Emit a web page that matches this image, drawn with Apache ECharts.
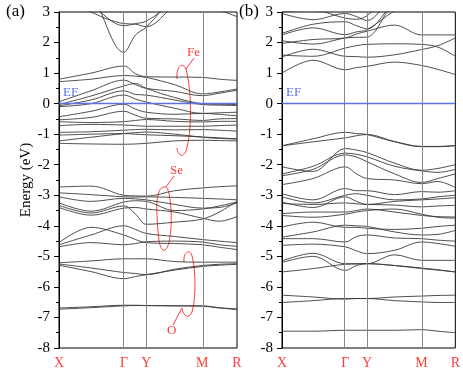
<!DOCTYPE html>
<html>
<head>
<meta charset="utf-8">
<script src="https://cdn.jsdelivr.net/npm/echarts@6/dist/echarts.min.js"></script>
<style>
  html, body { margin: 0; padding: 0; background: #fff; }
  #chart { width: 463px; height: 373px; }
</style>
</head>
<body>
<div id="chart"></div>
<script>
// k-path positions where band energies were read
const kPoints = [0, 0.18, 0.365, 0.43, 0.49, 0.65, 0.805, 0.9, 1]
const kTicks = [0, 0.365, 0.49, 0.805, 1]
const kLabels = ['X', 'Γ', 'Y', 'M', 'R']

// panel (a)
const condA = [
  [3.6, 3.0, 2.62, 2.60, 2.52, 3.2, 3.6, 3.6, 3.6],
  [3.6, 3.2, 2.55, 2.62, 2.70, 3.3, 3.6, 3.6, 3.6],
  [4.6, 3.6, 1.68, 2.25, 2.50, 3.5, 4.0, 4.0, 4.0],
  [3.6, 3.6, 3.6, 3.6, 3.6, 3.6, 3.4, 3.08, 2.85],
]
const feA = [
  [0.80, 1.00, 1.23, 0.98, 0.88, 0.87, 0.86, 0.80, 0.76],
  [0.72, 0.80, 0.92, 0.90, 0.86, 0.62, 0.32, 0.38, 0.48],
  [0.06, 0.42, 0.77, 0.62, 0.50, 0.40, 0.26, 0.34, 0.44],
  [-0.03, 0.25, 0.58, 0.66, 0.50, 0.20, 0.00, -0.02, -0.03],
  [-0.07, 0.12, 0.42, 0.30, 0.28, 0.12, -0.03, -0.05, -0.06],
  [-0.10, 0.00, 0.28, 0.15, 0.05, -0.15, -0.32, -0.30, -0.28],
  [-0.43, -0.25, -0.02, -0.18, -0.28, -0.35, -0.32, -0.35, -0.40],
  [-0.53, -0.45, -0.25, -0.38, -0.48, -0.50, -0.55, -0.50, -0.49],
  [-0.59, -0.62, -0.59, -0.55, -0.52, -0.58, -0.60, -0.58, -0.58],
  [-0.72, -0.68, -0.70, -0.72, -0.74, -0.74, -0.74, -0.72, -0.70],
  [-0.94, -0.92, -0.87, -0.85, -0.84, -0.86, -0.85, -0.87, -0.90],
  [-1.03, -1.00, -0.98, -1.00, -1.02, -1.05, -1.09, -1.12, -1.15],
  [-1.22, -1.10, -0.98, -0.95, -0.93, -1.00, -1.10, -1.14, -1.16],
  [-1.30, -1.32, -1.33, -1.32, -1.30, -1.22, -1.20, -1.21, -1.22],
]
const seA = [
  [-2.73, -2.70, -3.00, -3.02, -3.03, -2.85, -2.76, -2.72, -2.69],
  [-2.92, -2.98, -3.05, -3.06, -3.05, -3.07, -3.10, -3.12, -3.15],
  [-3.05, -3.20, -3.10, -3.12, -3.15, -3.30, -3.42, -3.40, -3.25],
  [-3.25, -3.52, -3.22, -3.18, -3.20, -3.50, -3.45, -3.35, -3.22],
  [-3.33, -3.58, -3.35, -3.62, -3.95, -3.88, -3.78, -3.55, -3.20],
  [-3.40, -3.65, -3.42, -3.40, -3.45, -3.55, -3.75, -3.85, -3.70],
  [-4.55, -4.05, -4.30, -4.45, -4.55, -4.58, -4.62, -4.70, -4.78],
  [-4.62, -4.30, -4.00, -4.12, -4.25, -4.35, -4.45, -4.50, -4.55],
  [-4.69, -4.55, -4.62, -4.58, -4.52, -4.50, -4.53, -4.62, -4.67],
]
const oA = [
  [-5.21, -5.15, -5.08, -5.08, -5.08, -5.17, -5.19, -5.19, -5.19],
  [-5.25, -5.38, -5.53, -5.56, -5.60, -5.42, -5.30, -5.26, -5.24],
  [-5.29, -5.50, -5.73, -5.66, -5.60, -5.45, -5.33, -5.29, -5.26],
  [-6.69, -6.65, -6.60, -6.60, -6.61, -6.62, -6.62, -6.68, -6.72],
  [-6.73, -6.68, -6.62, -6.61, -6.61, -6.62, -6.63, -6.69, -6.74],
]

// panel (b)
const condB = [
  [1.00, 1.42, 1.11, 1.18, 1.22, 1.36, 1.25, 1.12, 0.95],
  [1.53, 1.78, 1.55, 1.54, 1.52, 1.60, 1.77, 1.90, 2.15],
  [1.59, 1.55, 1.82, 1.90, 1.94, 1.96, 1.94, 1.85, 1.55],
  [1.97, 2.10, 2.15, 2.28, 2.37, 2.57, 2.25, 2.25, 2.25],
  [2.06, 1.95, 2.15, 2.17, 2.18, 3.30, 3.60, 3.60, 3.60],
  [2.25, 2.48, 2.26, 2.35, 2.42, 3.05, 3.60, 3.60, 3.60],
  [2.30, 2.60, 2.68, 2.55, 2.45, 3.30, 3.60, 3.60, 3.60],
  [2.95, 2.75, 2.95, 2.85, 2.72, 3.50, 3.60, 3.60, 3.60],
  [3.00, 3.05, 2.80, 2.76, 2.88, 3.60, 3.60, 3.60, 3.60],
]
const valB = [
  [-1.38, -1.15, -0.94, -0.98, -1.01, -1.25, -1.41, -1.41, -1.38],
  [-1.38, -1.25, -1.12, -1.05, -1.01, -1.24, -1.40, -1.40, -1.37],
  [-2.07, -2.22, -1.47, -1.52, -1.60, -1.95, -2.18, -2.12, -2.00],
  [-2.30, -2.05, -1.62, -1.66, -1.74, -2.05, -2.20, -2.25, -2.15],
  [-2.36, -2.15, -1.68, -1.75, -1.90, -2.30, -2.58, -2.45, -2.30],
  [-2.65, -2.45, -2.07, -2.30, -2.45, -2.50, -2.62, -2.55, -2.75],
  [-2.95, -3.15, -2.78, -2.85, -2.85, -2.98, -2.88, -2.90, -2.85],
  [-3.05, -3.25, -3.00, -2.95, -3.00, -3.15, -3.12, -3.05, -3.00],
  [-3.22, -3.40, -3.05, -3.20, -3.30, -3.20, -3.15, -3.12, -3.08],
  [-3.27, -3.30, -3.25, -3.28, -3.30, -3.32, -3.38, -3.35, -3.33],
  [-3.60, -3.55, -3.55, -3.50, -3.45, -3.55, -3.66, -3.70, -3.71],
  [-3.66, -3.72, -3.62, -3.55, -3.50, -3.45, -3.62, -3.72, -3.75],
]
const lowB = [
  [-4.04, -3.88, -4.05, -4.05, -4.08, -4.12, -4.08, -4.02, -3.98],
  [-4.37, -4.20, -3.98, -4.00, -4.02, -4.20, -4.30, -4.28, -4.15],
  [-4.42, -4.42, -4.53, -4.35, -4.30, -4.40, -4.42, -4.47, -4.50],
  [-4.64, -4.60, -4.69, -4.82, -4.91, -4.80, -4.53, -4.58, -4.67],
  [-5.15, -4.90, -5.24, -5.24, -5.24, -4.95, -5.13, -5.13, -5.13],
  [-5.20, -5.00, -5.46, -5.30, -5.24, -5.30, -5.40, -5.45, -5.51],
  [-5.51, -5.40, -5.26, -5.25, -5.24, -5.30, -5.38, -5.44, -5.51],
]
const deepB = [
  [-6.27, -6.33, -6.40, -6.38, -6.38, -6.33, -6.30, -6.28, -6.27],
  [-6.51, -6.45, -6.38, -6.38, -6.38, -6.45, -6.49, -6.51, -6.51],
  [-7.45, -7.45, -7.42, -7.42, -7.42, -7.42, -7.40, -7.45, -7.50],
]

const serif = 'Liberation Serif'
const red = '#ff3c3c'
const blue = '#5b72e8'

const chart = echarts.init(document.getElementById('chart'), null, { renderer: 'canvas' })

function bandSeries(bands, idx) {
  return bands.map(b => ({
    type: 'line',
    xAxisIndex: idx,
    yAxisIndex: idx,
    data: kPoints.map((k, i) => [k, b[i]]),
    smooth: 0.35,
    showSymbol: false,
    clip: true,
    silent: true,
    lineStyle: { color: '#3a3a3a', width: 0.9 },
  }))
}

function guideSeries(idx) {
  return {
    type: 'line',
    xAxisIndex: idx,
    yAxisIndex: idx,
    data: [],
    silent: true,
    markLine: {
      symbol: ['none', 'none'],
      silent: true,
      animation: false,
      label: { show: false },
      data: [
        ...kTicks.slice(1, 4).map(k => ({ xAxis: k, lineStyle: { color: '#858585', width: 1, type: 'solid' } })),
        { yAxis: 0, lineStyle: { color: blue, width: 1.3, type: 'solid' } },
      ],
    },
  }
}

function xAxis(idx) {
  return {
    type: 'value', gridIndex: idx, min: 0, max: 1,
    axisLine: { show: true, lineStyle: { color: '#000', width: 1 } },
    axisTick: { show: false },
    splitLine: { show: false },
    axisLabel: {
      customValues: kTicks,
      formatter: v => kLabels[kTicks.indexOf(v)] ?? '',
      color: red, fontFamily: serif, fontSize: 14, margin: 8,
    },
  }
}

function yAxis(idx, name) {
  return {
    type: 'value', gridIndex: idx, min: -8, max: 3, interval: 1,
    name, nameLocation: 'middle', nameGap: 20,
    nameTextStyle: { fontFamily: serif, fontSize: 15, color: '#000' },
    axisLine: { show: true, lineStyle: { color: '#000', width: 1 } },
    axisTick: { show: true, length: 5, lineStyle: { color: '#000' } },
    minorTick: { show: true, splitNumber: 2, length: 3, lineStyle: { color: '#000' } },
    splitLine: { show: false },
    axisLabel: { color: '#000', fontFamily: serif, fontSize: 15, margin: 9 },
  }
}

const txt = (left, top, text, color, size) => ({
  type: 'text', left, top,
  style: { text, fill: color, font: `${size}px "${serif}"` },
})
// red annotation loops: cubic segments [x1, y1, cpx1, cpy1, cpx2, cpy2, x2, y2]
const curves = (segs) => segs.map(s => ({
  type: 'bezierCurve',
  shape: { x1: s[0], y1: s[1], cpx1: s[2], cpy1: s[3], cpx2: s[4], cpy2: s[5], x2: s[6], y2: s[7] },
  style: { fill: 'none', stroke: red, lineWidth: 1 },
}))
const leader = (x1, y1, x2, y2) => ({
  type: 'line', shape: { x1, y1, x2, y2 }, style: { stroke: red, lineWidth: 1 },
})

chart.setOption({
  animation: false,
  backgroundColor: '#fff',
  grid: [
    { left: 59, top: 12, width: 178, height: 336, show: true, borderColor: '#000', borderWidth: 1 },
    { left: 282, top: 12, width: 176, height: 336, show: true, borderColor: '#000', borderWidth: 1 },
  ],
  xAxis: [xAxis(0), xAxis(1)],
  yAxis: [yAxis(0, 'Energy (eV)'), yAxis(1, '')],
  series: [
    guideSeries(0),
    guideSeries(1),
    ...bandSeries([...condA, ...feA, ...seA, ...oA], 0),
    ...bandSeries([...condB, ...valB, ...lowB, ...deepB], 1),
  ],
  graphic: [
    txt(6, 3, '(a)', '#000', 17),
    txt(239, 3, '(b)', '#000', 17),
    txt(63, 86, 'EF', blue, 13),
    txt(286, 86, 'EF', blue, 13),
    txt(187, 46, 'Fe', red, 13),
    txt(170, 164, 'Se', red, 13),
    txt(167, 324, 'O', red, 13),
    ...curves([
      [177, 79, 176, 67, 182, 61, 186, 69],
      [186, 69, 192, 92, 192, 132, 186, 151],
      [186, 151, 183, 158, 178, 156, 177, 148],
    ]),
    leader(186, 69, 194, 58),
    ...curves([
      [165, 187, 158, 186, 156, 200, 157, 215],
      [157, 215, 158, 240, 160, 252, 165, 250],
      [165, 250, 170, 248, 172, 225, 171, 210],
      [171, 210, 170, 195, 168, 186, 165, 187],
    ]),
    leader(166, 187, 174, 176),
    ...curves([
      [184, 262, 183, 252, 190, 248, 192, 256],
      [192, 256, 196, 270, 196, 300, 192, 312],
      [192, 312, 189, 320, 183, 316, 182, 308],
    ]),
    leader(182, 308, 173, 325),
  ],
})
</script>
</body>
</html>
